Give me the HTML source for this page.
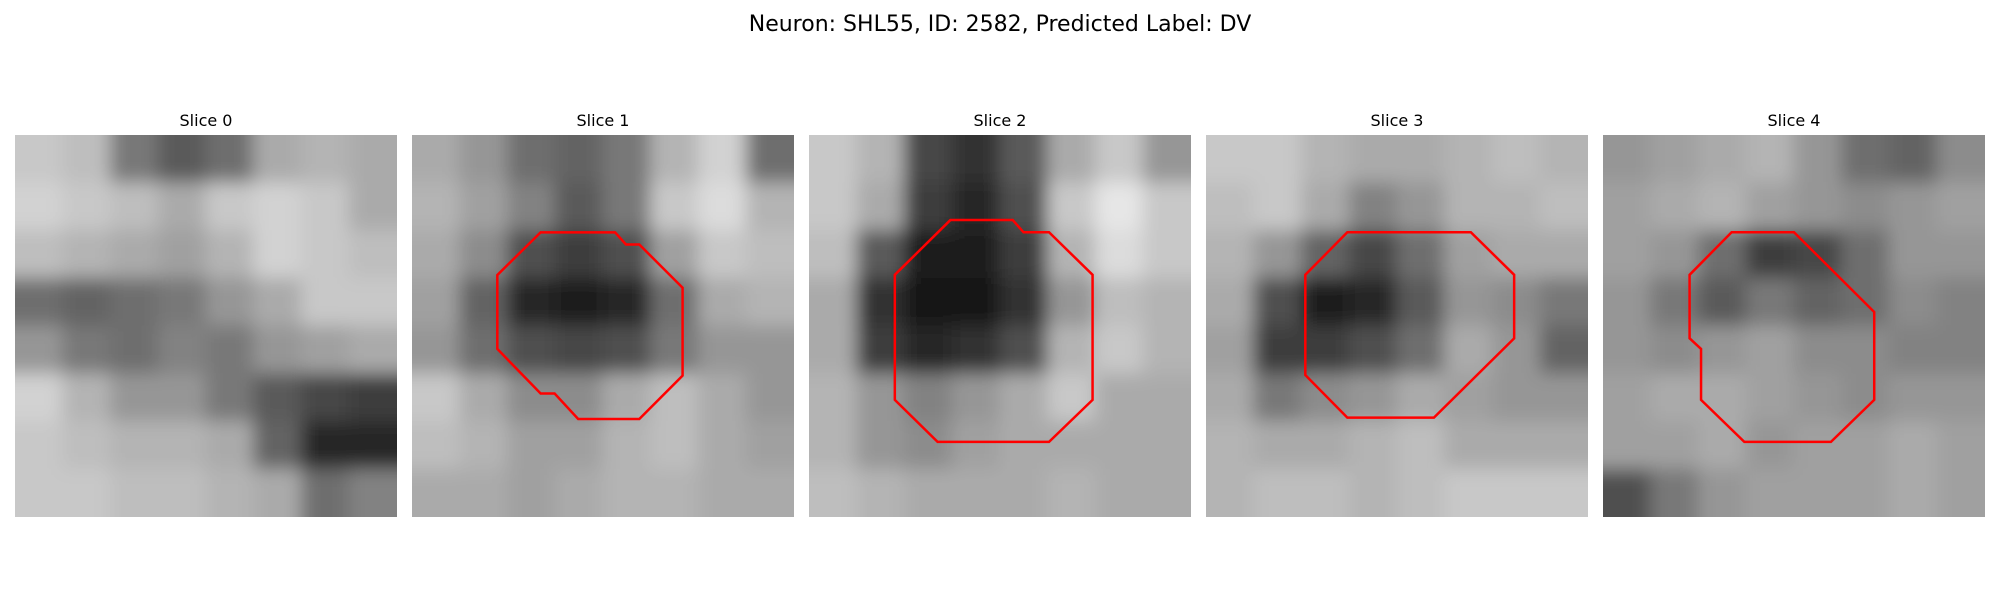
<!DOCTYPE html>
<html><head><meta charset="utf-8"><style>
html,body{margin:0;padding:0;background:#fff;}
svg{display:block;font-family:"DejaVu Sans","Liberation Sans",sans-serif;}
</style></head><body>
<svg id="fig" width="2000" height="600" viewBox="0 0 2000 600" xmlns="http://www.w3.org/2000/svg">
<text x="1000" y="31" text-anchor="middle" font-size="22" fill="#000">Neuron: SHL55, ID: 2582, Predicted Label: DV</text>
<g id="panels"></g>
</svg>
<script>
const sliceTitles = ["Slice 0","Slice 1","Slice 2","Slice 3","Slice 4"];
const panelLeft = [15, 412, 809, 1206, 1603];
const slice0 = [
[200,190,120,90,110,170,180,170],
[210,200,190,170,200,210,200,170],
[190,180,170,160,180,210,200,190],
[110,100,110,120,150,170,200,200],
[150,120,110,130,120,150,160,170],
[210,180,150,150,120,90,70,60],
[200,190,180,180,170,100,40,40],
[200,200,190,190,180,170,110,130]];
const slice1 = [
[170,150,110,100,120,180,210,110],
[180,160,130,90,120,200,220,180],
[170,140,80,60,80,160,200,190],
[160,100,40,30,40,110,170,180],
[150,110,80,70,80,120,150,150],
[200,170,140,140,170,190,170,150],
[190,180,160,160,180,190,170,160],
[170,170,160,170,180,180,170,170]];
const slice2 = [
[200,180,70,50,90,170,200,150],
[200,170,60,40,80,200,230,200],
[190,90,30,30,60,180,220,200],
[170,50,25,25,50,150,190,180],
[170,60,40,50,80,180,200,180],
[180,150,130,150,170,200,170,170],
[180,150,140,160,170,170,170,170],
[190,180,170,170,170,180,170,170]];
const slice3 = [
[200,200,180,170,170,180,190,180],
[190,200,170,130,150,180,180,190],
[180,150,100,70,110,160,170,170],
[170,80,30,40,90,150,140,120],
[160,60,60,80,110,170,150,100],
[170,120,140,150,170,160,150,150],
[180,170,170,180,190,170,170,170],
[180,190,190,180,190,200,200,200]];
const slice4 = [
[150,160,170,180,150,110,100,140],
[160,170,180,160,150,140,150,160],
[160,150,110,60,70,110,150,150],
[150,120,90,120,100,110,140,130],
[150,140,150,160,140,140,130,130],
[160,170,170,160,150,140,150,150],
[160,160,170,150,160,160,170,160],
[80,120,150,160,160,160,170,160]];
const slices = [slice0, slice1, slice2, slice3, slice4];
const contour1 = [[10.1,7.65],[15.95,7.65],[16.8,8.6],[17.85,8.6],[21.25,12],[21.25,18.9],[17.85,22.3],[13.05,22.3],[11.2,20.3],[10.1,20.3],[6.7,16.8],[6.7,11]];
const contour2 = [[11.1,6.68],[16,6.68],[16.85,7.64],[18.85,7.64],[22.27,10.98],[22.27,20.8],[18.85,24.1],[10.1,24.1],[6.74,20.8],[6.74,10.98]];
const contour3 = [[11.1,7.64],[20.8,7.64],[24.2,10.98],[24.2,15.97],[17.9,22.2],[11.1,22.2],[7.8,18.85],[7.8,10.98]];
const contour4 = [[10.1,7.64],[15.0,7.64],[21.3,13.9],[21.3,20.8],[17.9,24.1],[11.1,24.1],[7.7,20.8],[7.7,16.8],[6.8,15.97],[6.8,10.98]];
const contours = [null, contour1, contour2, contour3, contour4];

const NS = "http://www.w3.org/2000/svg";
const top0 = 135, size = 382, imgPx = 30, pad = 40;
const g = document.getElementById('panels');
const defs = document.createElementNS(NS,'defs');
g.appendChild(defs);
slices.forEach((grid, p) => {
  const left = panelLeft[p];
  const xs = v => left + v * size / imgPx;
  const ys = v => top0 + v * size / imgPx;
  const t = document.createElementNS(NS,'text');
  
  
  t.setAttribute('x', left + size/2); t.setAttribute('y', 126);
  t.setAttribute('text-anchor','middle'); t.setAttribute('font-size','16');
  t.textContent = sliceTitles[p];
  g.appendChild(t);
  const cp = document.createElementNS(NS,'clipPath');
  cp.setAttribute('id','clip'+p);
  const cr = document.createElementNS(NS,'rect');
  cr.setAttribute('x',left); cr.setAttribute('y',top0); cr.setAttribute('width',size); cr.setAttribute('height',size);
  cp.appendChild(cr); defs.appendChild(cp);
  const f = document.createElementNS(NS,'filter');
  f.setAttribute('id','blur'+p);
  f.setAttribute('x','-20%'); f.setAttribute('y','-20%'); f.setAttribute('width','140%'); f.setAttribute('height','140%');
  const fb = document.createElementNS(NS,'feGaussianBlur');
  fb.setAttribute('stdDeviation','9');
  f.appendChild(fb); defs.appendChild(f);
  const panel = document.createElementNS(NS,'g');
  
  
  panel.setAttribute('clip-path','url(#clip'+p+')');
  const cells = document.createElementNS(NS,'g');
  cells.setAttribute('filter','url(#blur'+p+')');
  const n = grid.length, cs = size / n;
  grid.forEach((row, r) => row.forEach((v, c) => {
    let x0 = left + c*cs - 0.5, y0 = top0 + r*cs - 0.5, w = cs+1, h = cs+1;
    if (c === 0) { x0 -= pad; w += pad; }
    if (c === n-1) { w += pad; }
    if (r === 0) { y0 -= pad; h += pad; }
    if (r === n-1) { h += pad; }
    const rect = document.createElementNS(NS,'rect');
    
    
    rect.setAttribute('x', x0); rect.setAttribute('y', y0);
    rect.setAttribute('width', w); rect.setAttribute('height', h);
    rect.setAttribute('fill', `rgb(${v},${v},${v})`);
    cells.appendChild(rect);
  }));
  panel.appendChild(cells);
  g.appendChild(panel);
  const ct = contours[p];
  if (ct) {
    const poly = document.createElementNS(NS,'polygon');
    
    
    poly.setAttribute('points', ct.map(q => xs(q[0]) + ',' + ys(q[1])).join(' '));
    poly.setAttribute('fill','none'); poly.setAttribute('stroke','#ff0000'); poly.setAttribute('stroke-width','2.5');
    g.appendChild(poly);
  }
});
</script>
</body></html>
